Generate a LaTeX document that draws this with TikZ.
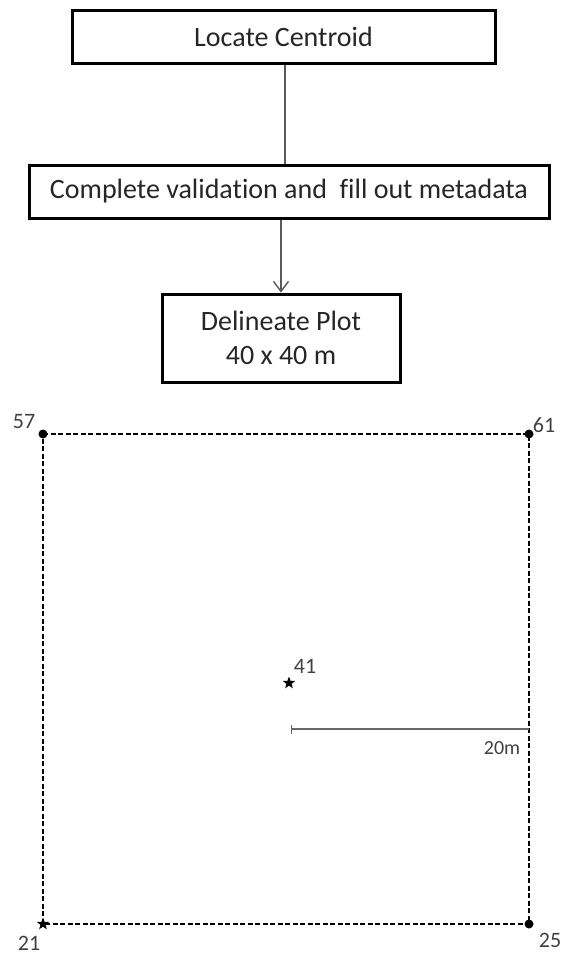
\documentclass[tikz,border=0pt]{standalone}
\usepackage{fontspec}
\setmainfont{Carlito}[Ligatures={NoCommon}]
\usetikzlibrary{arrows.meta,shapes.geometric}
\begin{document}
\begin{tikzpicture}[x=1pt,y=-1pt,
  flowbox/.style={draw=black, line width=3pt, fill=white, inner sep=0pt, align=center,
    font=\fontsize{28}{34}\selectfont, text=black!85},
  conn/.style={draw=black!65, line width=1.4pt},
  plotedge/.style={draw=black, line width=2.2pt, dash pattern=on 5pt off 2.5pt},
  cornerdot/.style={circle, fill=black, inner sep=0pt, minimum size=9pt},
  starmark/.style={star, star points=5, star point ratio=2.4, fill=black, inner sep=0pt, minimum size=13pt},
  lbl/.style={inner sep=0pt, font=\fontsize{22}{24}\selectfont, text=black!75}]
\useasboundingbox (0,0) rectangle (566,956);

% flowchart
\node[flowbox, minimum width=423pt, minimum height=53pt] (box1) at (283.5,36.5) {Locate Centroid};
\node[flowbox, minimum width=520pt, minimum height=53pt] (box2) at (289,191.5) {Complete validation and\ \ fill out metadata};
\node[flowbox, minimum width=238pt, minimum height=88pt] (box3) at (281,338) {Delineate Plot\\40 x 40 m};

\draw[conn] (box1.south -| 285,0) -- (box2.north -| 285,0);
\draw[conn, -{Straight Barb[length=10pt,width=15pt,line width=1.4pt]}] (box2.south -| box3.north) -- (box3.north);

% plot square
\coordinate (c57) at (43,434);
\coordinate (c61) at (529,434);
\coordinate (c25) at (529,924);
\coordinate (c21) at (43,924);
\draw[plotedge] (c57) -- (c61) -- (c25) -- (c21) -- cycle;

\node[cornerdot] (d57) at (c57) {};
\node[cornerdot] (d61) at (c61) {};
\node[cornerdot] (d25) at (c25) {};
\node[starmark] (s21) at (c21) {};
\node[starmark] (s41) at (289,683) {};

\node[lbl] (l57) at (24,422) {57};
\node[lbl] (l61) at (544,425) {61};
\node[lbl] (l25) at (550,940) {25};
\node[lbl] (l21) at (29,943) {21};
\node[lbl] (l41) at (305,666) {41};

% scale bar
\coordinate (barstart) at (291,729);
\coordinate (barend) at (c61 |- barstart);
\draw[draw=black!60, line width=1.3pt, {Bar[width=9pt,line width=1.3pt]}-] (barstart) -- (barend);
\node[lbl, font=\fontsize{20}{22}\selectfont] (l20) at (502,748) {20m};
\end{tikzpicture}
\end{document}
